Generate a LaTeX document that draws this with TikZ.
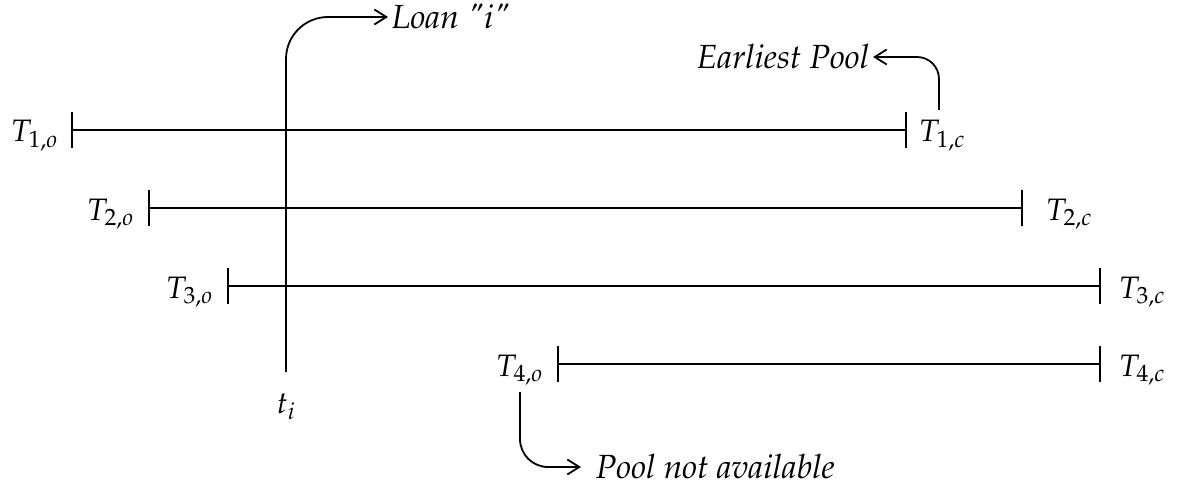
\documentclass[tikz,border=0pt]{standalone}
\usepackage[T1]{fontenc}
\usepackage{mathpazo}
\usetikzlibrary{arrows.meta}
\begin{document}
\begin{tikzpicture}[x=1pt,y=-1pt,line width=1.8pt,
  lbl/.style={inner sep=0pt,font=\fontsize{31}{37}\selectfont},
  txt/.style={inner sep=0pt,font=\fontsize{33.5}{40}\selectfont\itshape},
  interval/.style={{Bar[width=36pt]}-{Bar[width=36pt]}},
  arr/.style={-{Straight Barb[length=12pt,width=15pt]}}]
\useasboundingbox (0,0) rectangle (1177,489);
% intervals
\coordinate (o1) at (71,130);  \coordinate (c1) at (907,130);
\coordinate (o2) at (148,208); \coordinate (c2) at (1023,208);
\coordinate (o3) at (227,286); \coordinate (c3) at (1101,286);
\coordinate (o4) at (557,364); \coordinate (c4) at (1101,364);
\draw[interval] (o1) -- (c1);
\draw[interval] (o2) -- (c2);
\draw[interval] (o3) -- (c3);
\draw[interval] (o4) -- (c4);
% labels
\node[lbl,anchor=base east] (T1o) at (59,142) {$T_{1,o}$};
\node[lbl,anchor=base west] (T1c) at (918,142) {$T_{1,c}$};
\node[lbl,anchor=base east] (T2o) at (135,220) {$T_{2,o}$};
\node[lbl,anchor=base west] (T2c) at (1045,220) {$T_{2,c}$};
\node[lbl,anchor=base east] (T3o) at (214,298) {$T_{3,o}$};
\node[lbl,anchor=base west] (T3c) at (1118,298) {$T_{3,c}$};
\node[lbl,anchor=base east] (T4o) at (544,376) {$T_{4,o}$};
\node[lbl,anchor=base west] (T4c) at (1118,376) {$T_{4,c}$};
\node[lbl,anchor=base] (ti) at (286,413) {$t_i$};
% annotations
\node[txt,anchor=west] (loan) at (391,17) {Loan \textquotedbl i\textquotedbl};
\node[txt,anchor=east] (earl) at (870,57) {Earliest Pool};
\node[txt,anchor=west] (pna) at (595,467) {Pool not available};
\coordinate (tiTop) at (286,372);
\coordinate (T1cTop) at (939,110);
\coordinate (T4oBot) at (520,392);
\draw[arr,rounded corners=42pt] (tiTop) |- ([xshift=-3pt]loan.west);
\draw[arr,rounded corners=22pt] (T1cTop) |- ([xshift=3pt]earl.east);
\draw[arr,rounded corners=28pt] (T4oBot) |- ([xshift=-14pt]pna.west);
\end{tikzpicture}
\end{document}
